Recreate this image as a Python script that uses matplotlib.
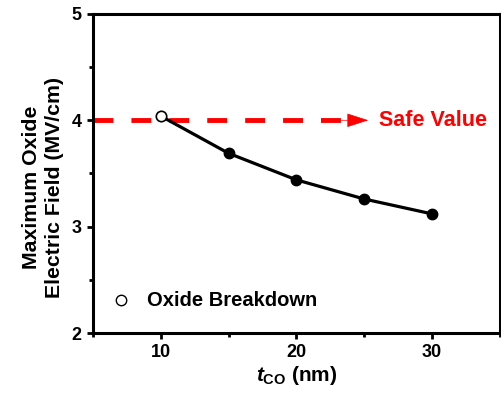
import matplotlib
matplotlib.use("Agg")
import matplotlib.pyplot as plt
from matplotlib.ticker import MultipleLocator

t_co = [10, 15, 20, 25, 30]
e_field = [4.04, 3.69, 3.44, 3.26, 3.12]
safe_value = 4.0
x_ticks = [10, 20, 30]
y_ticks = [2, 3, 4, 5]

plt.rcParams['font.family'] = ['Liberation Sans', 'DejaVu Sans']
plt.rcParams['font.weight'] = 'bold'
plt.rcParams['mathtext.fontset'] = 'custom'
plt.rcParams['mathtext.bf'] = 'Liberation Sans:bold'
plt.rcParams['mathtext.it'] = 'Liberation Sans:italic:bold'
plt.rcParams['mathtext.rm'] = 'Liberation Sans:bold'

fig = plt.figure(figsize=(5.02, 3.97), dpi=100)
ax = fig.add_axes([0.185, 0.161, 0.811, 0.804])

ax.plot(t_co, e_field, color='black', lw=2.3, zorder=2)
ax.plot(t_co[1:], e_field[1:], 'o', color='black', ms=7.5, zorder=3)
ax.plot(t_co[:1], e_field[:1], 'o', mfc='white', mec='black', mew=1.2, ms=7.5, zorder=4)

# safe value dashed line with arrow
ax.plot([5, 23.5], [safe_value, safe_value], color='red', lw=3.5,
        dashes=(4.1, 3.7), zorder=1)
ax.annotate('', xy=(25.3, safe_value), xytext=(23.3, safe_value),
            arrowprops=dict(arrowstyle='-|>,head_length=1.4,head_width=0.45',
                            color='red', lw=0.5, shrinkA=0, shrinkB=0))
ax.text(26.1, safe_value, 'Safe Value', color='red', fontsize=15.5,
        fontweight='bold', va='center', ha='left')

# legend-like entry
ax.plot([7.1], [2.31], 'o', mfc='white', mec='black', mew=1.0, ms=7.5)
ax.text(9.0, 2.31, 'Oxide Breakdown', fontsize=14.5, fontweight='bold',
        va='center', ha='left')

ax.set_xlim(5, 35)
ax.set_ylim(2, 5)
ax.set_xticks(x_ticks)
ax.set_yticks(y_ticks)
ax.xaxis.set_minor_locator(MultipleLocator(5))
ax.yaxis.set_minor_locator(MultipleLocator(0.5))
ax.tick_params(which='both', direction='out', width=2, labelsize=13)
ax.tick_params(which='major', length=4.5)
ax.tick_params(which='minor', length=3)
for s in ax.spines.values():
    s.set_linewidth(2.2)

ax.set_xlabel(r'$\mathit{t}_{\mathrm{CO}}$ (nm)', fontsize=15, fontweight='bold', labelpad=2)
ax.set_ylabel('Maximum Oxide\nElectric Field (MV/cm)', fontsize=15.3,
              fontweight='bold', linespacing=1.3)
ax.yaxis.set_label_coords(-0.07, 0.456)

fig.savefig('out.png', dpi=100)
